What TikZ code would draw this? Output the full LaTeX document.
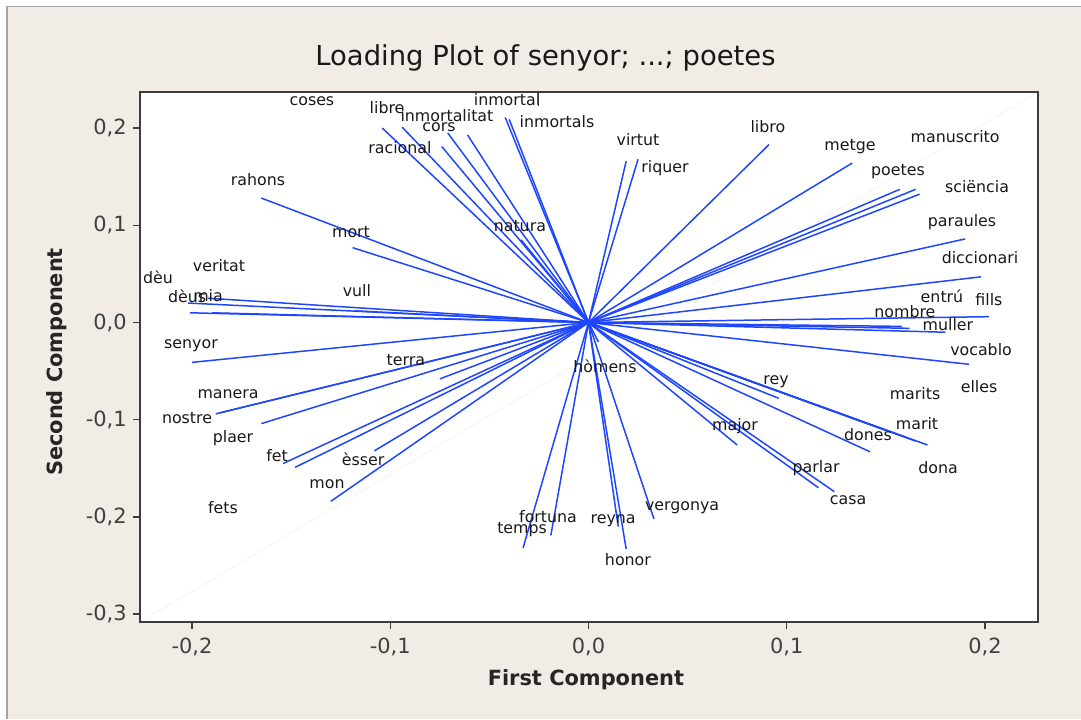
\documentclass[tikz,border=0pt]{standalone}
\usepackage{fontspec}
\setmainfont{DejaVu Sans}
\usepackage{tikz}
\definecolor{bleu}{RGB}{30,70,255}
\definecolor{fond}{RGB}{241,237,230}
\definecolor{bord}{RGB}{165,165,165}
\definecolor{cadre}{RGB}{60,60,60}
\tikzset{charge/.style={
    bleu,
    line width=0.85pt}}
\tikzset{mot/.style={
    font=\fontsize{9}{10}\selectfont,
    text=black!90,
    inner sep=0pt}}
\tikzset{grad/.style={
    font=\fontsize{11.9}{13}\selectfont,
    text=black!75,
    inner sep=0pt}}
\tikzset{titre/.style={
    font=\bfseries\fontsize{11.9}{13}\selectfont,
    text=black!85}}

\begin{document}
\begin{tikzpicture}[x=39.65cm,y=19.44cm]
  % fond
\useasboundingbox (-0.29685,-0.40792) rectangle (0.24842,0.33179);
\fill[white] (-0.29685,-0.40792) rectangle (0.24842,0.33179);
\fill[fond] (-0.29332,-0.40792) rectangle (0.24842,0.32510);
\draw[bord,line width=0.8pt] (-0.29332,-0.40792) -- (-0.29332,0.32510) -- (0.24842,0.32510);

\node[font=\fontsize{15.6}{18}\selectfont, text=black!90] (titre) at (-0.0217,0.2721)
  {Loading Plot of senyor; ...; poetes};

  % cadre
\coordinate (SW) at (-0.2262,-0.3081);
\coordinate (NE) at (0.2267,0.2371);
\fill[white] (SW) rectangle (NE);
\draw[black!5] (SW) -- (NE);

  % graduations
\foreach \x/\t [count=\i] in {-0.2/{-0,2},-0.1/{-0,1},0/{0,0},0.1/{0,1},0.2/{0,2}}{
  \draw[cadre,line width=0.8pt] (\x,-0.3081) -- ++(0,-0.0072);
  \node[grad] (gx\i) at (\x,-0.3338) {\t};
}
\foreach \y/\t [count=\i] in {-0.3/{-0,3},-0.2/{-0,2},-0.1/{-0,1},0/{0,0},0.1/{0,1},0.2/{0,2}}{
  \draw[cadre,line width=0.8pt] (-0.2262,\y) -- ++(-0.0035,0);
  \node[grad,anchor=east] (gy\i) at (-0.2328,\y) {\t};
}
\node[titre] (axex) at (-0.0013,-0.3678) {First Component};
\node[titre,rotate=90] (axey) at (-0.2681,-0.0406) {Second Component};

  % vecteurs
\coordinate (O) at (0,0);
\foreach \nom/\x/\y in {libre/-0.104/0.200, inmortalitat/-0.094/0.201,
    racional/-0.074/0.181, cors/-0.071/0.195, coses/-0.061/0.193,
    inmortal/-0.042/0.211, inmortals/-0.040/0.209, natura/-0.034/0.085,
    rahons/-0.165/0.128, mort/-0.119/0.077, virtut/0.019/0.166,
    riquer/0.025/0.168, libro/0.091/0.183, metge/0.133/0.164,
    poetes/0.157/0.137, manuscrito/0.165/0.137, sciencia/0.167/0.132,
    paraules/0.190/0.086, diccionari/0.198/0.047, fills/0.202/0.006,
    nombre/0.162/-0.006, muller/0.180/-0.010, entru/0.158/-0.004,
    vocablo/0.192/-0.043, rey/0.096/-0.078, marit/0.171/-0.126,
    marits/0.150/-0.111, elles/0.165/-0.122, dona/0.160/-0.118,
    dones/0.142/-0.133, major/0.075/-0.126, parlar/0.116/-0.170,
    casa/0.124/-0.174, homens/0.005/-0.020, deu/-0.202/0.020,
    veritat/-0.192/0.025, deus/-0.201/0.010, mia/-0.190/0.010,
    vull/-0.118/0.012, senyor/-0.200/-0.041, terra/-0.075/-0.058,
    manera/-0.186/-0.093, nostre/-0.188/-0.094, plaer/-0.165/-0.104,
    fet/-0.154/-0.145, fets/-0.148/-0.149, esser/-0.108/-0.132,
    mon/-0.130/-0.184, temps/-0.033/-0.232, fortuna/-0.019/-0.219,
    reyna/0.015/-0.210, honor/0.019/-0.233, vergonya/0.033/-0.202}{
  \coordinate (c-\nom) at (\x,\y);
  \draw[charge] (O) -- (c-\nom);
}

  % mots
\foreach \nom/\txt/\x/\y in {coses/coses/-0.1395/0.2279, libre/libre/-0.1016/0.2207,
    inmortalitat/inmortalitat/-0.0714/0.2124, cors/cors/-0.0754/0.2011,
    inmortal/inmortal/-0.0411/0.2289, inmortals/inmortals/-0.0159/0.2063,
    racional/racional/-0.0951/0.1795, rahons/rahons/-0.1667/0.1466,
    mort/mort/-0.1198/0.0931, natura/natura/-0.0346/0.0993,
    virtut/virtut/0.0250/0.1878, riquer/riquer/0.0386/0.1590,
    libro/libro/0.0905/0.2011, metge/metge/0.1319/0.1806,
    manuscrito/manuscrito/0.1849/0.1908, poetes/poetes/0.1561/0.1548,
    sciencia/sciëncia/0.1960/0.1394, paraules/paraules/0.1884/0.1034,
    diccionari/diccionari/0.1975/0.0664, veritat/veritat/-0.1864/0.0581,
    deu/dèu/-0.2172/0.0468, deus/dèus/-0.2025/0.0273, mia/mia/-0.1919/0.0273,
    vull/vull/-0.1168/0.0324, entru/entrú/0.1783/0.0273, fills/fills/0.2020/0.0231,
    nombre/nombre/0.1596/0.0108, muller/muller/0.1813/-0.0026,
    senyor/senyor/-0.2005/-0.0242, terra/terra/-0.0921/-0.0386,
    vocablo/vocablo/0.1980/-0.0283, homens/hòmens/0.0083/-0.0448,
    rey/rey/0.0946/-0.0612, marits/marits/0.1647/-0.0736,
    elles/elles/0.1970/-0.0664, manera/manera/-0.1818/-0.0736,
    nostre/nostre/-0.2025/-0.0983, marit/marit/0.1657/-0.1044,
    major/major/0.0739/-0.1065, dones/dones/0.1410/-0.1157,
    plaer/plaer/-0.1793/-0.1188, fet/fet/-0.1571/-0.1373,
    esser/èsser/-0.1137/-0.1404, parlar/parlar/0.1148/-0.1497,
    dona/dona/0.1763/-0.1497, mon/mon/-0.1319/-0.1662,
    casa/casa/0.1309/-0.1826, fets/fets/-0.1844/-0.1908,
    fortuna/fortuna/-0.0204/-0.2001, vergonya/vergonya/0.0472/-0.1908,
    reyna/reyna/0.0124/-0.2042, temps/temps/-0.0335/-0.2135,
    honor/honor/0.0199/-0.2443}{
  \node[mot] (m-\nom) at (\x,\y) {\txt};
}

  % cadre par-dessus
\draw[cadre,line width=0.9pt] (SW) rectangle (NE);
\draw[cadre,line width=0.6pt] (-0.025,0.2371) -- (-0.025,0.2227);
\end{tikzpicture}
\end{document}
